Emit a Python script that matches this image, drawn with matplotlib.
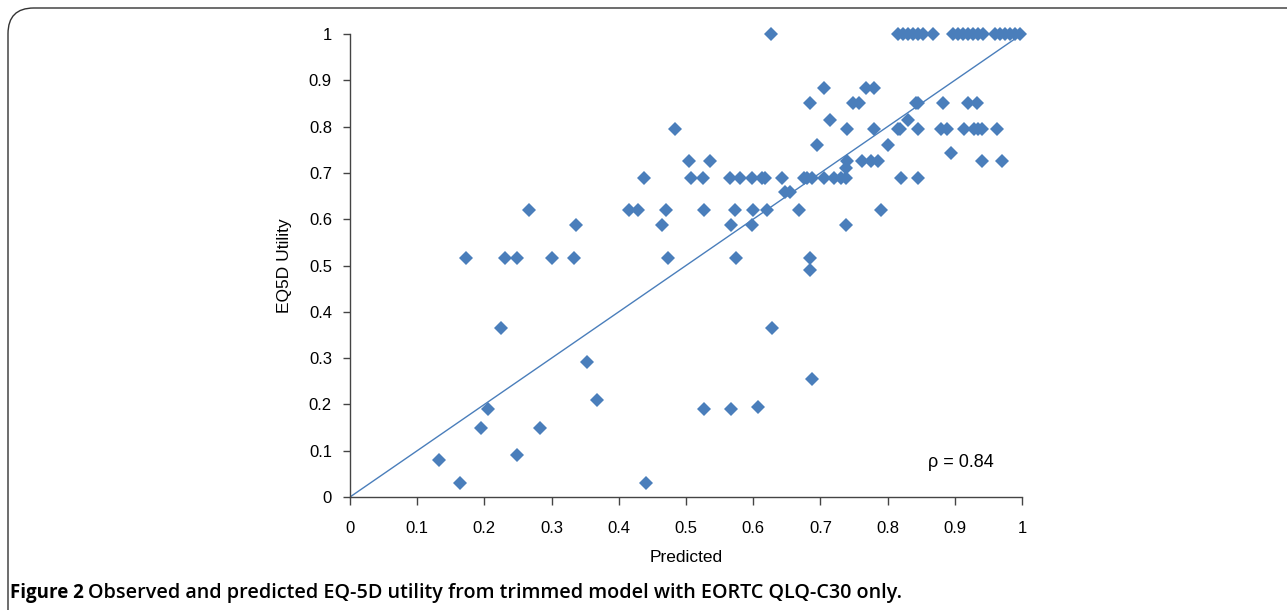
import matplotlib
matplotlib.use("Agg")
import matplotlib.pyplot as plt
from matplotlib.patches import FancyBboxPatch

# observed (EQ5D utility) vs predicted
predicted = [
    0.133, 0.163, 0.172, 0.195, 0.205, 0.225, 0.230, 0.248, 0.248, 0.267,
    0.283, 0.300, 0.333, 0.337, 0.353, 0.368, 0.415, 0.428, 0.437, 0.440,
    0.465, 0.470, 0.473, 0.483, 0.505, 0.508, 0.525, 0.527, 0.527, 0.535,
    0.565, 0.567, 0.567, 0.573, 0.575, 0.580, 0.598, 0.598, 0.600, 0.607,
    0.613, 0.617, 0.620, 0.627, 0.628, 0.643, 0.648, 0.655, 0.668, 0.675,
    0.680, 0.685, 0.685, 0.685, 0.687, 0.688, 0.695, 0.705, 0.705, 0.715,
    0.720, 0.730, 0.738, 0.738, 0.740, 0.738, 0.740, 0.748, 0.758, 0.762,
    0.768, 0.775, 0.780, 0.780, 0.785, 0.790, 0.800, 0.815, 0.818, 0.820,
    0.830, 0.843, 0.845, 0.845, 0.845, 0.883, 0.880, 0.888, 0.895, 0.913,
    0.920, 0.933, 0.928, 0.935, 0.940, 0.940, 0.963, 0.970,
    0.815, 0.823, 0.830, 0.838, 0.845, 0.853, 0.868,
    0.897, 0.905, 0.912, 0.920, 0.927, 0.935, 0.942,
    0.960, 0.967, 0.975, 0.982, 0.990, 0.997,
]
observed = [
    0.080, 0.030, 0.517, 0.150, 0.190, 0.365, 0.517, 0.517, 0.090, 0.620,
    0.150, 0.517, 0.517, 0.588, 0.292, 0.210, 0.620, 0.620, 0.690, 0.030,
    0.588, 0.620, 0.517, 0.795, 0.725, 0.690, 0.690, 0.620, 0.190, 0.725,
    0.690, 0.588, 0.190, 0.620, 0.517, 0.690, 0.690, 0.588, 0.620, 0.195,
    0.690, 0.690, 0.620, 1.000, 0.365, 0.690, 0.658, 0.658, 0.620, 0.690,
    0.690, 0.850, 0.517, 0.490, 0.255, 0.690, 0.760, 0.883, 0.690, 0.815,
    0.690, 0.690, 0.690, 0.710, 0.725, 0.588, 0.795, 0.850, 0.850, 0.725,
    0.883, 0.725, 0.883, 0.795, 0.725, 0.620, 0.760, 0.795, 0.795, 0.690,
    0.815, 0.850, 0.850, 0.795, 0.690, 0.850, 0.795, 0.795, 0.743, 0.795,
    0.850, 0.850, 0.795, 0.795, 0.725, 0.795, 0.795, 0.725,
    1.0, 1.0, 1.0, 1.0, 1.0, 1.0, 1.0,
    1.0, 1.0, 1.0, 1.0, 1.0, 1.0, 1.0,
    1.0, 1.0, 1.0, 1.0, 1.0, 1.0,
]
ticks = [0, 0.1, 0.2, 0.3, 0.4, 0.5, 0.6, 0.7, 0.8, 0.9, 1]
tick_labels = ["0", "0.1", "0.2", "0.3", "0.4", "0.5", "0.6", "0.7", "0.8", "0.9", "1"]
rho_text = "\u03c1 = 0.84"

blue = "#4a7ebb"
plt.rcParams['font.family'] = ['Liberation Sans', 'DejaVu Sans']

fig = plt.figure(figsize=(12.87, 6.10), dpi=100)

# rounded frame around the figure
frame = FancyBboxPatch((8 / 1287, -0.2), 1.2, 1.2 - 8 / 610,
                       boxstyle="round,pad=0,rounding_size=0.02",
                       transform=fig.transFigure, fill=False,
                       edgecolor="#333333", lw=1.0, mutation_aspect=1287 / 610)
fig.patches.append(frame)

ax = fig.add_axes([350 / 1287, 1 - 497 / 610, 672 / 1287, 463 / 610])

ax.plot([0, 1], [0, 1], color=blue, lw=1.0, zorder=2)
ax.plot(predicted, observed, 'D', color=blue, markersize=7, markeredgewidth=0,
        zorder=3, clip_on=False)

ax.set_xlim(0, 1)
ax.set_ylim(0, 1)
ax.set_xticks(ticks)
ax.set_xticklabels(tick_labels)
ax.set_yticks(ticks)
ax.set_yticklabels(tick_labels)
for sp in ['top', 'right']:
    ax.spines[sp].set_visible(False)
for sp in ['left', 'bottom']:
    ax.spines[sp].set_color("#444444")
    ax.spines[sp].set_linewidth(1.0)
ax.tick_params(axis='x', direction='out', length=6, width=1, color="#444444", pad=11, labelsize=12)
ax.tick_params(axis='y', direction='out', length=5, width=1, color="#444444", pad=8, labelsize=12)

ax.set_xlabel("Predicted", fontsize=12.5, labelpad=10)
ax.set_ylabel("EQ5D Utility", fontsize=12.5, labelpad=12)

ax.text(0.86, 0.075, rho_text, fontsize=13, va='center', ha='left')

fig.text(10 / 1287, 1 - 593 / 610, "Figure 2", fontsize=13.5, fontweight='bold',
         family=['Open Sans', 'DejaVu Sans'], va='center', ha='left')
fig.text(88 / 1287, 1 - 593 / 610,
         "Observed and predicted EQ-5D utility from trimmed model with EORTC QLQ-C30 only.",
         fontsize=14.2, family=['Open Sans', 'DejaVu Sans'], fontweight='semibold',
         va='center', ha='left')

fig.savefig("out.png", dpi=100)
